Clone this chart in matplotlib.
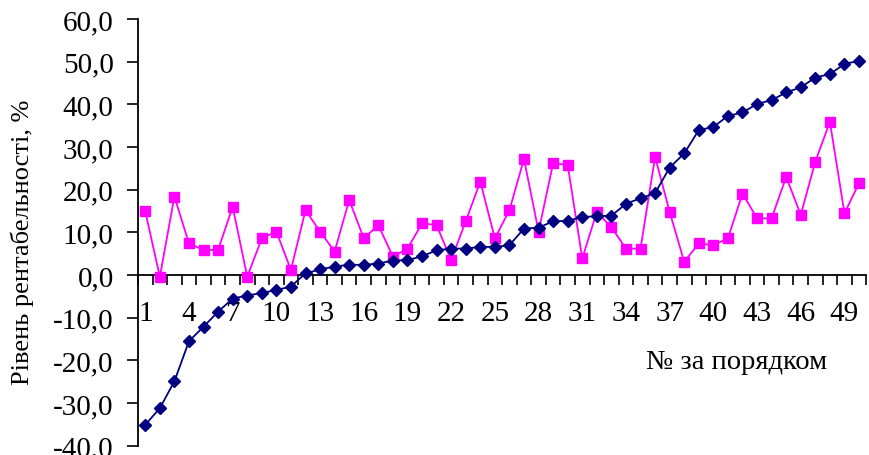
import matplotlib
matplotlib.use("Agg")
import matplotlib.pyplot as plt
import numpy as np
from matplotlib.ticker import FixedLocator, FuncFormatter

# order numbers of the enterprises
numbers = list(range(1, 51))

# navy series (sorted profitability level)
navy_vals = [-35.1, -31.2, -24.9, -15.5, -12.1, -8.6, -5.5, -4.8, -4.2, -3.5,
             -2.7, 0.4, 1.3, 2.0, 2.4, 2.4, 2.7, 3.4, 3.5, 4.4,
             5.8, 6.2, 6.2, 6.6, 6.6, 7.0, 10.9, 11.1, 12.6, 12.7,
             13.6, 13.8, 13.9, 16.7, 18.0, 19.2, 25.2, 28.5, 34.0, 34.7,
             37.3, 38.1, 40.1, 41.0, 42.8, 44.0, 46.3, 47.1, 49.5, 50.2]

# magenta series
pink_vals = [14.9, -0.4, 18.4, 7.4, 5.9, 5.9, 16.0, -0.4, 8.6, 10.2,
             1.2, 15.2, 10.2, 5.5, 17.6, 8.6, 11.7, 4.3, 6.2, 12.1,
             11.7, 3.5, 12.6, 21.9, 8.6, 15.2, 27.2, 10.2, 26.2, 25.8,
             3.9, 14.8, 11.2, 6.2, 6.2, 27.7, 14.8, 3.1, 7.4, 7.0,
             8.6, 19.1, 13.3, 13.3, 23.0, 14.1, 26.6, 35.9, 14.5, 21.5]

label_numbers = numbers[::3]

plt.rcParams['font.family'] = ['Liberation Serif', 'DejaVu Serif']

fig = plt.figure(figsize=(8.69, 4.56), dpi=100)
ax = fig.add_axes([0.1588, 0.0204, 0.9969 - 0.1588, 0.956 - 0.0204])

ax.plot(numbers, pink_vals, color='#FF00FF', lw=1.3, marker='s', ms=7.5,
        mec='#FF00FF', zorder=3, clip_on=False)
ax.plot(numbers, navy_vals, color='#000080', lw=1.3, marker='D', ms=6.5,
        mec='#000080', zorder=4, clip_on=False)

ax.set_xlim(0.5, 50.5)
ax.set_ylim(-40, 60)

# y axis
ax.set_yticks(np.arange(-40, 61, 10))
ax.yaxis.set_major_formatter(FuncFormatter(lambda v, p: f"{v:.1f}".replace('.', ',')))
ax.tick_params(axis='y', direction='out', length=8, width=1.2, labelsize=21, pad=9.5)

# x axis crosses at zero
ax.spines['bottom'].set_position(('data', 0))
ax.spines['top'].set_visible(False)
ax.spines['right'].set_visible(False)
ax.spines['left'].set_linewidth(1.3)
ax.spines['bottom'].set_linewidth(1.3)

ax.xaxis.set_major_locator(FixedLocator(np.arange(0.5, 51, 1)))
ax.xaxis.set_major_formatter(FuncFormatter(lambda v, p: ''))
ax.xaxis.set_minor_locator(FixedLocator(label_numbers))
ax.xaxis.set_minor_formatter(FuncFormatter(lambda v, p: f"{int(round(v))}"))
ax.tick_params(axis='x', which='major', direction='out', length=7, width=1.2)
ax.tick_params(axis='x', which='minor', length=0, labelsize=21, pad=18)

fig.text(0.848, 0.206, '№ за порядком', fontsize=20.5, ha='center', va='center')
fig.text(0.026, 0.469, 'Рівень рентабельності, %', fontsize=19, rotation=90,
         ha='center', va='center')

fig.savefig('out.png', dpi=100)
